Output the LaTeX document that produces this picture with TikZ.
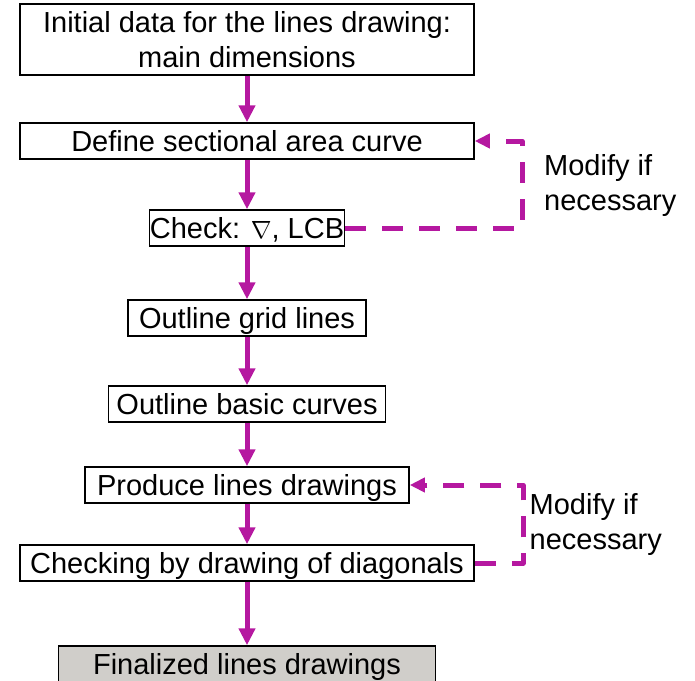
\documentclass[tikz,border=0pt]{standalone}
\usepackage{fontspec}
\setmainfont{Liberation Sans}
\usetikzlibrary{arrows.meta}
\definecolor{mag}{RGB}{181,24,160}
\definecolor{finalgray}{RGB}{208,206,202}
\begin{document}
\begin{tikzpicture}[x=1pt,y=-1pt,
  boxbase/.style={draw=black, line width=1.5pt, fill=white, inner sep=0pt,
    font=\fontsize{29}{35}\selectfont},
  box/.style={boxbase, minimum height=36pt, text height=20.8pt, text depth=0pt},
  flow/.style={draw=mag, line width=5pt, -{Triangle[width=16pt,length=17pt]}},
  loopline/.style={draw=mag, line width=5pt, dash pattern=on 21pt off 16pt,
    line join=round, -{Triangle[width=14pt,length=15pt]}},
  note/.style={font=\fontsize{29}{35}\selectfont, align=left, inner sep=0pt, anchor=west}]
\useasboundingbox (0,0) rectangle (695,680);

\node[boxbase, minimum width=454pt, minimum height=71pt, align=center] (b1) at (247,39.5)
  {Initial data for the lines drawing:\\main dimensions};
\node[box, minimum width=454pt] (b2) at (247,141) {Define sectional area curve};
\node[box, minimum width=195pt] (b3) at (247,228) {Check: $\nabla$, LCB};
\node[box, minimum width=238pt] (b4) at (247,318) {Outline grid lines};
\node[box, minimum width=277pt] (b5) at (247,404) {Outline basic curves};
\node[box, minimum width=324pt] (b6) at (247,485) {Produce lines drawings};
\node[box, minimum width=454pt] (b7) at (247,563) {Checking by drawing of diagonals};
\node[box, minimum width=377pt, fill=finalgray] (b8) at (247,664) {Finalized lines drawings};

\node[note] (n1) at (544,185) {Modify if\\necessary};
\node[note] (n2) at (529.5,524.5) {Modify if\\necessary};

\draw[flow] (b1) -- (b2);
\draw[flow] (b2) -- (b3);
\draw[flow] (b3) -- (b4);
\draw[flow] (b4) -- (b5);
\draw[flow] (b5) -- (b6);
\draw[flow] (b6) -- (b7);
\draw[flow] (b7) -- (b8);

\coordinate (k1) at (522,0);
\coordinate (k2) at (523,0);
\draw[loopline] (b3.east) -- (b3.east -| k1) -- (b2.east -| k1) -- (b2.east);
\draw[loopline] (b7.east) -- (b7.east -| k2) -- (b6.east -| k2) -- (b6.east);
\end{tikzpicture}
\end{document}
